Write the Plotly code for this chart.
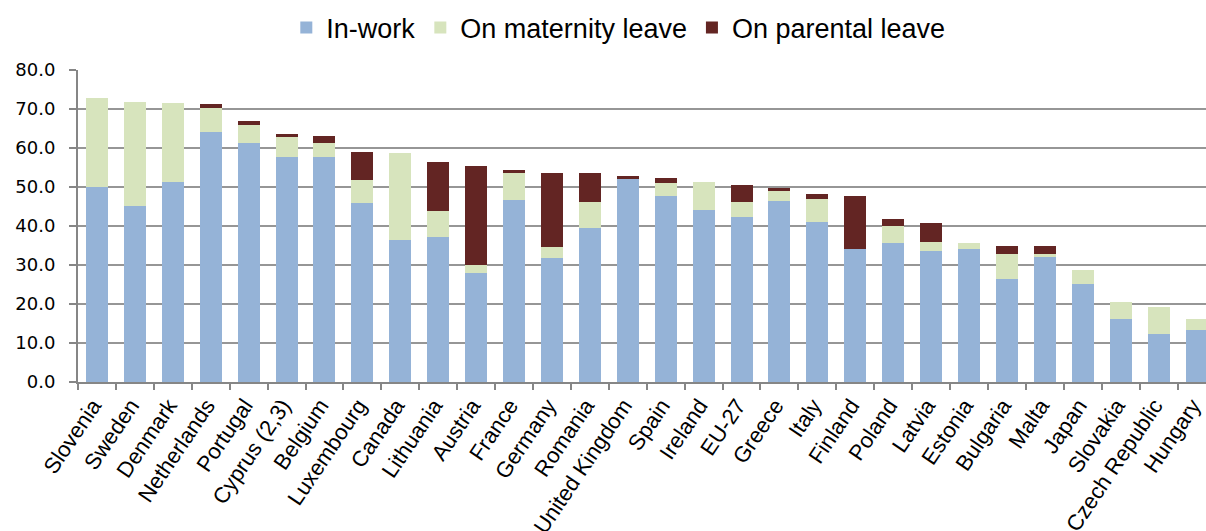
import plotly.graph_objects as go

countries = ["Slovenia", "Sweden", "Denmark", "Netherlands", "Portugal", "Cyprus (2,3)",
             "Belgium", "Luxembourg", "Canada", "Lithuania", "Austria", "France", "Germany",
             "Romania", "United Kingdom", "Spain", "Ireland", "EU-27", "Greece", "Italy",
             "Finland", "Poland", "Latvia", "Estonia", "Bulgaria", "Malta", "Japan",
             "Slovakia", "Czech Republic", "Hungary"]

in_work = [50.0, 45.1, 51.2, 64.2, 61.4, 57.6, 57.6, 45.8, 36.4, 37.2, 27.9, 46.6, 31.7,
           39.6, 52.0, 47.7, 44.2, 42.3, 46.5, 41.1, 34.0, 35.7, 33.7, 34.1, 26.3, 32.1,
           25.2, 16.2, 12.3, 13.3]
maternity = [22.7, 26.8, 20.3, 6.1, 4.6, 5.3, 3.8, 5.9, 22.2, 6.6, 2.0, 7.0, 2.8,
             6.6, 0.0, 3.2, 7.0, 3.9, 2.4, 5.9, 0.0, 4.2, 2.2, 1.5, 6.6, 0.8,
             3.5, 4.2, 6.9, 2.8]
parental = [0.0, 0.0, 0.0, 0.9, 0.8, 0.8, 1.6, 7.3, 0.0, 12.5, 25.6, 0.8, 19.1,
            7.4, 0.8, 1.5, 0.0, 4.3, 0.9, 1.2, 13.7, 2.0, 4.8, 0.0, 2.0, 2.0,
            0.0, 0.0, 0.0, 0.0]

y_ticks = [0, 10, 20, 30, 40, 50, 60, 70, 80]

fig = go.Figure()
fig.add_trace(go.Bar(x=countries, y=in_work, name="In-work",
                     marker=dict(color="#95B3D7", line=dict(width=0))))
fig.add_trace(go.Bar(x=countries, y=maternity, name="On maternity leave",
                     marker=dict(color="#D7E4BD", line=dict(width=0))))
fig.add_trace(go.Bar(x=countries, y=parental, name="On parental leave",
                     marker=dict(color="#632523", line=dict(width=0))))

fig.update_layout(
    barmode="stack",
    bargap=0.42,
    width=1206, height=531,
    margin=dict(l=78, r=0, t=70, b=149, autoexpand=False),
    paper_bgcolor="white", plot_bgcolor="white",
    font=dict(family="Liberation Sans, Arial, sans-serif", color="black"),
    legend=dict(orientation="h", x=0.479, xanchor="center", y=1.135, yanchor="middle",
                font=dict(size=27, family="Liberation Sans, Arial, sans-serif"),
                itemwidth=30, traceorder="normal"),
    showlegend=True,
)
fig.update_xaxes(
    type="category", range=[-0.5, 29.25],
    tickangle=-56, tickfont=dict(size=22, family="Liberation Sans, Arial, sans-serif"),
    showline=True, linecolor="#868686", linewidth=2,
    ticks="outside", tickson="boundaries", ticklen=6, tickcolor="#868686", tickwidth=2,
    showgrid=False, ticklabelshift=-4,
)
fig.update_yaxes(
    range=[0, 80], tickvals=y_ticks, tickformat=".1f",
    tickfont=dict(size=18, family="DejaVu Sans, Verdana, sans-serif"),
    showline=True, linecolor="#868686", linewidth=2,
    ticks="outside", ticklen=7, tickcolor="#868686", tickwidth=2,
    showgrid=True, gridcolor="#969696", gridwidth=2,
    ticklabelstandoff=10, zeroline=False,
)

fig.write_html("out.html",
               config={"displayModeBar": False},
               post_script="document.body.style.margin='0';document.body.style.overflow='hidden';")
